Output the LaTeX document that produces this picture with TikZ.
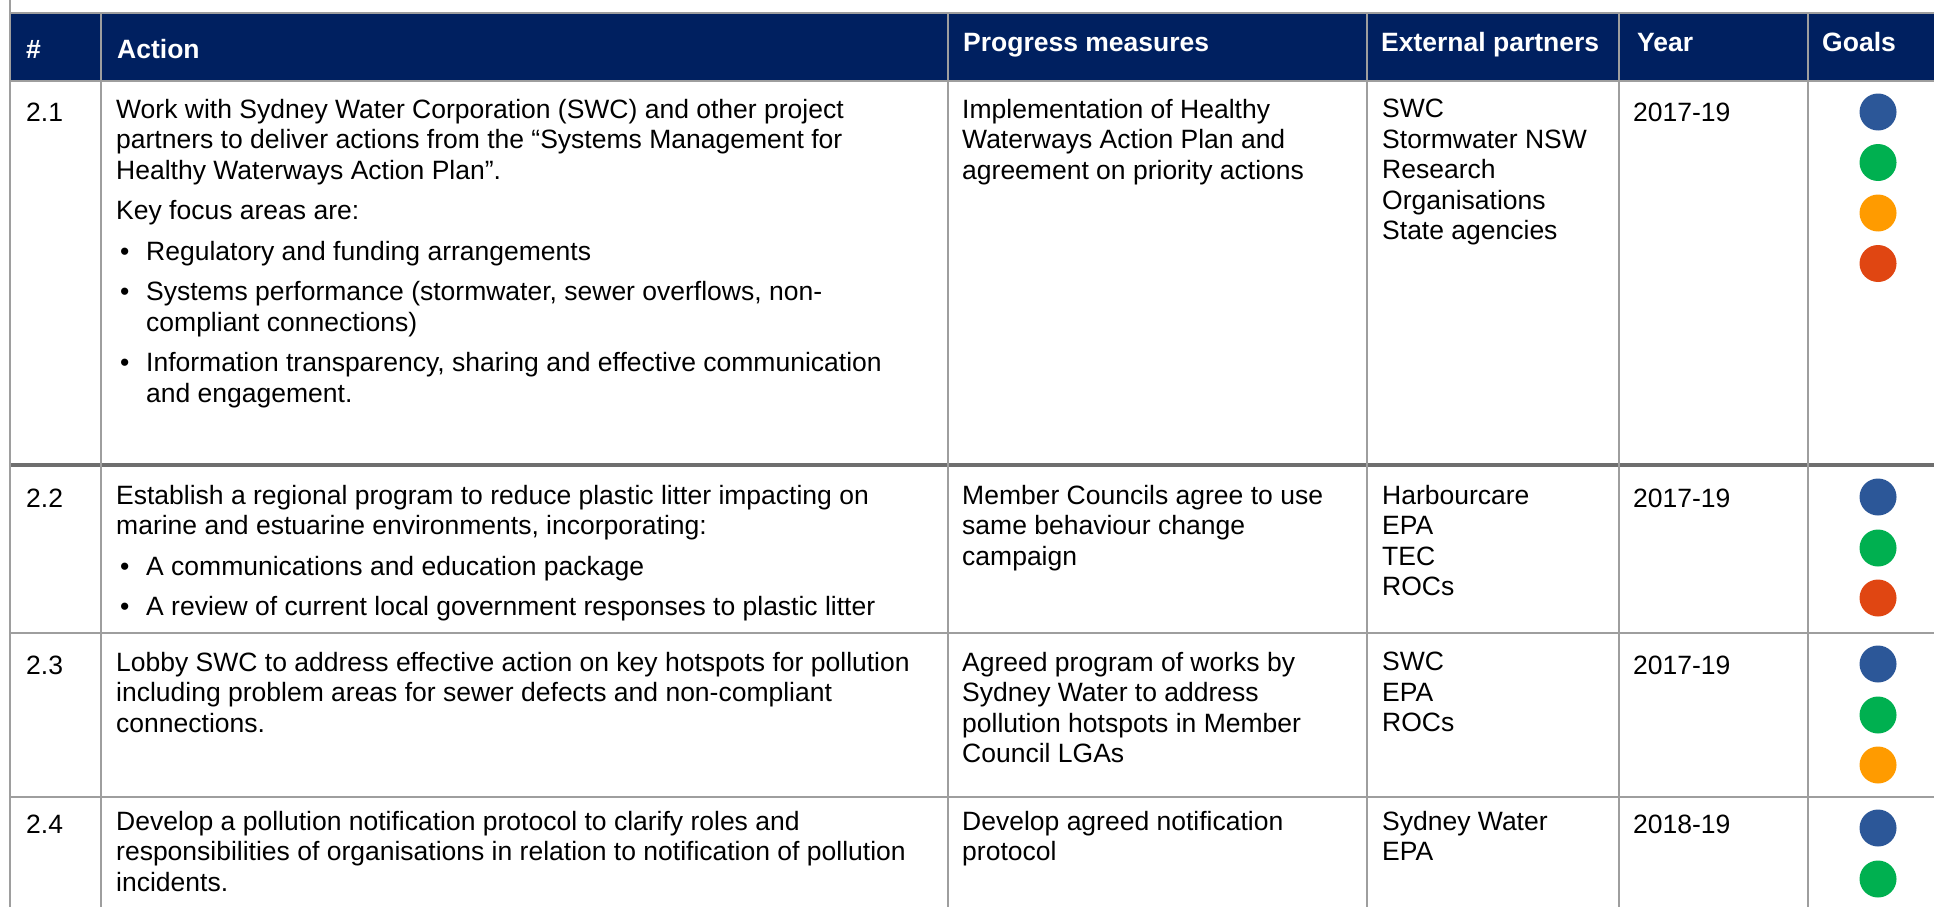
\documentclass[tikz,border=0pt]{standalone}
\usepackage{fontspec}
\setmainfont{Liberation Sans}
\usepackage{tikz}
\usetikzlibrary{shapes.geometric}

\definecolor{headnavy}{RGB}{0,32,96}
\definecolor{rulegray}{RGB}{158,158,158}
\definecolor{rowgray}{RGB}{110,110,110}
\definecolor{goalblue}{RGB}{44,87,152}
\definecolor{goalgreen}{RGB}{0,176,80}
\definecolor{goalorange}{RGB}{255,155,0}
\definecolor{goalred}{RGB}{224,70,18}

\newcommand{\cellfont}{\fontsize{26.5}{30.5}\selectfont}
\newcommand{\bul}{\makebox[30pt][l]{\hspace*{4pt}\textbullet}}
\newcommand{\bulgap}{\hspace*{30pt}}

\tikzstyle{cell} = [
    anchor=north west,
    inner sep=0pt,
    align=left,
    font=\cellfont,
    execute at begin node={\rule{0pt}{22pt}}]
\tikzstyle{head} = [cell, text=white, font=\cellfont\bfseries]
\tikzstyle{goal} = [circle, minimum size=37pt, inner sep=0pt]
\tikzstyle{gridrule} = [rulegray, line width=2pt]
\tikzstyle{rowrule} = [rowgray, line width=3.5pt]

\begin{document}
\begin{tikzpicture}[x=1pt, y=-1pt]
        \useasboundingbox (0,0) rectangle (1934,907);

        % header band and table rules
        \fill [headnavy] (10,13) rectangle (1934,81);
        \draw [gridrule] (10,13) -- (1934,13);
        \draw [gridrule] (10,81) -- (1934,81);
        \draw [rowrule] (10,465) -- (1934,465);
        \draw [gridrule] (10,633) -- (1934,633);
        \draw [gridrule] (10,797) -- (1934,797);

        \draw [gridrule] (10,0) -- (10,907);
        \draw [gridrule] (101,13) -- (101,907);
        \draw [gridrule] (948,13) -- (948,907);
        \draw [gridrule] (1367,13) -- (1367,907);
        \draw [gridrule] (1619,13) -- (1619,907);
        \draw [gridrule] (1808,13) -- (1808,907);

        % header
        \node (h_num) [head] at (26,36) {\#};
        \node (h_action) [head] at (117,36) {Action};
        \node (h_progress) [head] at (963,29) {Progress measures};
        \node (h_partners) [head] at (1381,29) {External partners};
        \node (h_year) [head] at (1637,29) {Year};
        \node (h_goals) [head] at (1822,29) {Goals};

        % row 2.1
        \node (num_21) [cell] at (26,99) {2.1};
        \node (act_21) [cell] at (116,99) {Work with Sydney Water Corporation (SWC) and other project\\
            partners to deliver actions from the “Systems Management for\\
            Healthy Waterways Action Plan”.\\[10pt]
            Key focus areas are:\\[10pt]
            \bul Regulatory and funding arrangements\\[10pt]
            \bul Systems performance (stormwater, sewer overflows, non-\\
            \bulgap compliant connections)\\[10pt]
            \bul Information transparency, sharing and effective communication\\
            \bulgap and engagement.};
        \node (prog_21) [cell] at (962,99) {Implementation of Healthy\\Waterways Action Plan and\\agreement on priority actions};
        \node (ext_21) [cell] at (1382,99) {SWC\\Stormwater NSW\\Research\\Organisations\\State agencies};
        \node (year_21) [cell] at (1633,99) {2017-19};
        \node (g21_a) [goal, fill=goalblue] at (1878,112) {};
        \node (g21_b) [goal, fill=goalgreen] at (1878,162.5) {};
        \node (g21_c) [goal, fill=goalorange] at (1878,213) {};
        \node (g21_d) [goal, fill=goalred] at (1878,263.5) {};

        % row 2.2
        \node (num_22) [cell] at (26,485) {2.2};
        \node (act_22) [cell] at (116,485) {Establish a regional program to reduce plastic litter impacting on\\
            marine and estuarine environments, incorporating:\\[10pt]
            \bul A communications and education package\\[10pt]
            \bul A review of current local government responses to plastic litter};
        \node (prog_22) [cell] at (962,485) {Member Councils agree to use\\same behaviour change\\campaign};
        \node (ext_22) [cell] at (1382,485) {Harbourcare\\EPA\\TEC\\ROCs};
        \node (year_22) [cell] at (1633,485) {2017-19};
        \node (g22_a) [goal, fill=goalblue] at (1878,497) {};
        \node (g22_b) [goal, fill=goalgreen] at (1878,548) {};
        \node (g22_c) [goal, fill=goalred] at (1878,598) {};

        % row 2.3
        \node (num_23) [cell] at (26,652) {2.3};
        \node (act_23) [cell] at (116,652) {Lobby SWC to address effective action on key hotspots for pollution\\
            including problem areas for sewer defects and non-compliant\\
            connections.};
        \node (prog_23) [cell] at (962,652) {Agreed program of works by\\Sydney Water to address\\pollution hotspots in Member\\Council LGAs};
        \node (ext_23) [cell] at (1382,652) {SWC\\EPA\\ROCs};
        \node (year_23) [cell] at (1633,652) {2017-19};
        \node (g23_a) [goal, fill=goalblue] at (1878,664) {};
        \node (g23_b) [goal, fill=goalgreen] at (1878,715) {};
        \node (g23_c) [goal, fill=goalorange] at (1878,765) {};

        % row 2.4
        \node (num_24) [cell] at (26,811) {2.4};
        \node (act_24) [cell] at (116,811) {Develop a pollution notification protocol to clarify roles and\\
            responsibilities of organisations in relation to notification of pollution\\
            incidents.};
        \node (prog_24) [cell] at (962,811) {Develop agreed notification\\protocol};
        \node (ext_24) [cell] at (1382,811) {Sydney Water\\EPA};
        \node (year_24) [cell] at (1633,811) {2018-19};
        \node (g24_a) [goal, fill=goalblue] at (1878,828) {};
        \node (g24_b) [goal, fill=goalgreen] at (1878,879) {};
    \end{tikzpicture}
\end{document}
